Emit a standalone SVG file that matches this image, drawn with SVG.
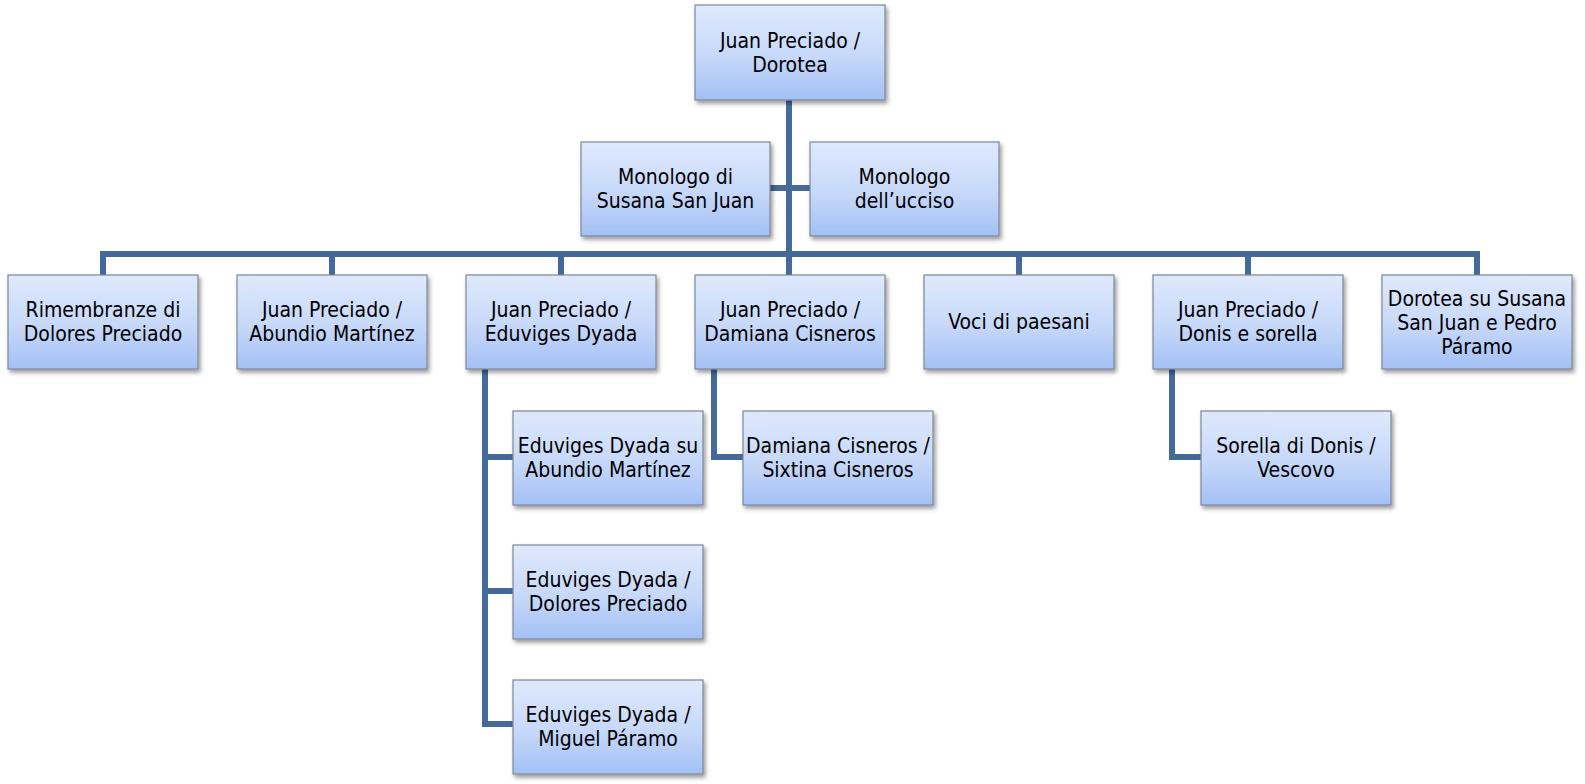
<svg xmlns="http://www.w3.org/2000/svg" width="1585" height="784" viewBox="0 0 1585 784">
<style>
.box{fill:url(#g);stroke:#7d889a;stroke-width:1.2;filter:url(#sh)}
.t{font-family:"DejaVu Sans Condensed","DejaVu Sans",Verdana,sans-serif;font-stretch:condensed;font-size:21px;fill:#000;text-anchor:middle}
.c{fill:none;stroke:#44699b;stroke-width:6;stroke-linejoin:miter}
</style>
<defs>
<linearGradient id="g" x1="0" y1="0" x2="0" y2="1">
<stop offset="0" stop-color="#dfe9fc"/>
<stop offset="0.55" stop-color="#c6d8f9"/>
<stop offset="1" stop-color="#a3c0f5"/>
</linearGradient>
<filter id="sh" x="-10%" y="-10%" width="125%" height="130%">
<feDropShadow dx="2" dy="3" stdDeviation="2" flood-color="#000" flood-opacity="0.4"/>
</filter>
</defs>
<g id="connectors">
<path class="c" d="M789 100 V254"/>
<path class="c" d="M770 188 H810"/>
<path class="c" d="M103 275 V254 H1477 V275"/>
<path class="c" d="M332 254 V275 M561 254 V275 M789 254 V275 M1019 254 V275 M1248 254 V275"/>
<path class="c" d="M485 369 V724 H513 M485 457 H513 M485 591 H513"/>
<path class="c" d="M714 369 V457 H743"/>
<path class="c" d="M1172 369 V457 H1201"/>
</g>
<g id="n-top"><rect class="box" x="695" y="5" width="190" height="95"/><text class="t" x="790" y="48">Juan Preciado /</text><text class="t" x="790" y="72">Dorotea</text></g>
<g id="n-susana"><rect class="box" x="581" y="142" width="189" height="94"/><text class="t" x="675.5" y="184">Monologo di</text><text class="t" x="675.5" y="208">Susana San Juan</text></g>
<g id="n-ucciso"><rect class="box" x="810" y="142" width="189" height="94"/><text class="t" x="904.5" y="184">Monologo</text><text class="t" x="904.5" y="208">dell’ucciso</text></g>
<g id="n-rimembranze"><rect class="box" x="8" y="275" width="190" height="94"/><text class="t" x="103" y="317">Rimembranze di</text><text class="t" x="103" y="341">Dolores Preciado</text></g>
<g id="n-abundio"><rect class="box" x="237" y="275" width="190" height="94"/><text class="t" x="332" y="317">Juan Preciado /</text><text class="t" x="332" y="341">Abundio Martínez</text></g>
<g id="n-eduviges"><rect class="box" x="466" y="275" width="190" height="94"/><text class="t" x="561" y="317">Juan Preciado /</text><text class="t" x="561" y="341">Eduviges Dyada</text></g>
<g id="n-damiana"><rect class="box" x="695" y="275" width="190" height="94"/><text class="t" x="790" y="317">Juan Preciado /</text><text class="t" x="790" y="341">Damiana Cisneros</text></g>
<g id="n-voci"><rect class="box" x="924" y="275" width="190" height="94"/><text class="t" x="1019" y="329">Voci di paesani</text></g>
<g id="n-donis"><rect class="box" x="1153" y="275" width="190" height="94"/><text class="t" x="1248" y="317">Juan Preciado /</text><text class="t" x="1248" y="341">Donis e sorella</text></g>
<g id="n-dorotea"><rect class="box" x="1382" y="275" width="190" height="94"/><text class="t" x="1477" y="306">Dorotea su Susana</text><text class="t" x="1477" y="330">San Juan e Pedro</text><text class="t" x="1477" y="354">Páramo</text></g>
<g id="n-edu-abundio"><rect class="box" x="513" y="411" width="190" height="94"/><text class="t" x="608" y="453">Eduviges Dyada su</text><text class="t" x="608" y="477">Abundio Martínez</text></g>
<g id="n-edu-dolores"><rect class="box" x="513" y="545" width="190" height="94"/><text class="t" x="608" y="587">Eduviges Dyada /</text><text class="t" x="608" y="611">Dolores Preciado</text></g>
<g id="n-edu-miguel"><rect class="box" x="513" y="680" width="190" height="94"/><text class="t" x="608" y="722">Eduviges Dyada /</text><text class="t" x="608" y="746">Miguel Páramo</text></g>
<g id="n-sixtina"><rect class="box" x="743" y="411" width="190" height="94"/><text class="t" x="838" y="453">Damiana Cisneros /</text><text class="t" x="838" y="477">Sixtina Cisneros</text></g>
<g id="n-sorella"><rect class="box" x="1201" y="411" width="190" height="94"/><text class="t" x="1296" y="453">Sorella di Donis /</text><text class="t" x="1296" y="477">Vescovo</text></g>
</svg>
